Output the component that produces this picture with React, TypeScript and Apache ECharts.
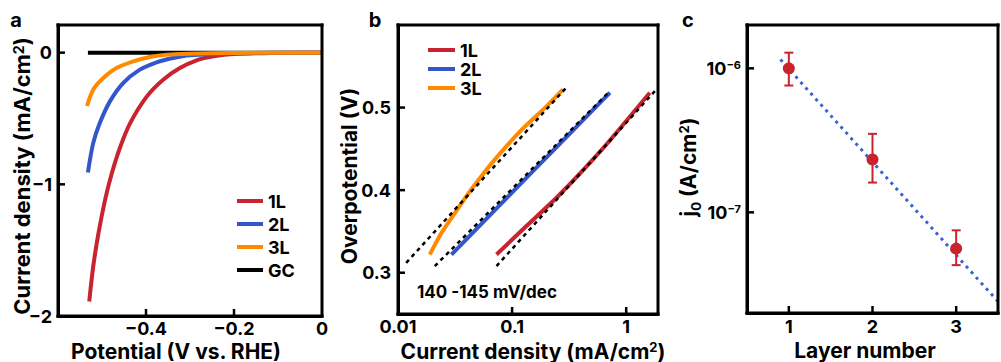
import React, { useEffect, useRef } from 'react';
import * as echarts from 'echarts';

const FONT = 'Inter, "Liberation Sans", Arial, sans-serif';
const RED = '#c8232f';
const BLUE = '#3456cc';
const ORANGE = '#ff8a00';
const BLACK = '#000000';
const FIT_BLUE = '#3a62d6';

// Panel a: polarization curves [potential (V vs. RHE), current density (mA/cm2)]
const lsv1L = [[-0.529, -1.89], [-0.52, -1.625], [-0.508, -1.371], [-0.493, -1.118], [-0.478, -0.92], [-0.459, -0.72], [-0.436, -0.535], [-0.398, -0.332], [-0.361, -0.205], [-0.323, -0.117], [-0.285, -0.058], [-0.247, -0.028], [-0.2, -0.01], [-0.1, -0.002], [0, 0]];
const lsv2L = [[-0.532, -0.91], [-0.52, -0.687], [-0.505, -0.535], [-0.482, -0.37], [-0.452, -0.231], [-0.414, -0.129], [-0.376, -0.073], [-0.338, -0.04], [-0.3, -0.02], [-0.2, -0.005], [-0.1, -0.001], [0, 0]];
const lsv3L = [[-0.534, -0.405], [-0.52, -0.281], [-0.497, -0.193], [-0.467, -0.117], [-0.429, -0.066], [-0.391, -0.033], [-0.353, -0.015], [-0.308, -0.008], [-0.2, -0.002], [0, 0]];
const lsvGC = [[-0.532, 0], [0, 0]];
const ticksXA = [-0.4, -0.2];
const ticksYA = [-1, 0];

// Panel b: Tafel plots [current density (mA/cm2), overpotential (V)]
const tafel1L = [[0.073, 0.322], [0.13, 0.355], [0.25, 0.392], [0.62, 0.45], [1.61, 0.518]];
const tafel2L = [[0.0294, 0.322], [0.138, 0.417], [0.72, 0.518]];
const tafel3L = [[0.019, 0.322], [0.024, 0.348], [0.0314, 0.372], [0.044, 0.401], [0.0705, 0.437], [0.121, 0.473], [0.194, 0.4996], [0.28, 0.522]];
const fit1L = [[0.073, 0.308], [1.84, 0.522]];
const fit2L = [[0.021, 0.308], [0.72, 0.52]];
const fit3L = [[0.0118, 0.312], [0.298, 0.524]];
const slopeText = '140 -145 mV/dec';
const ticksXB = [0.1, 1];
const ticksYB = [0.3, 0.4, 0.5];

// Panel c: exchange current density vs layer number
const layers = [1, 2, 3];
const j0 = [1.0e-6, 2.33e-7, 5.6e-8];
const j0Upper = [1.285e-6, 3.51e-7, 7.5e-8];
const j0Lower = [7.6e-7, 1.61e-7, 4.3e-8];
const j0Fit = [[0.9, 1.15e-6], [3.5, 2.4e-8]];
const ticksXC = [1, 2, 3];
const ticksYC = [1e-7, 1e-6];

const legendA = ['1L', '2L', '3L', 'GC'];
const legendB = ['1L', '2L', '3L'];

const fmtMinus = (v: number, d: number) => (v < 0 ? '\u2212' : '') + Math.abs(v).toFixed(d);

const axisBase = (labelExtra: any = {}) => ({
  axisLine: { show: true, onZero: false, lineStyle: { color: BLACK, width: 3 } },
  axisTick: { show: false },
  axisLabel: { show: true, color: BLACK, fontSize: 18, fontWeight: 'bold', fontFamily: FONT, ...labelExtra },
  splitLine: { show: false },
});

const titleText = (x: number, y: number, text: string, rotate: boolean, size: number, rich: any = undefined) => ({
  type: 'text',
  x,
  y,
  rotation: rotate ? Math.PI / 2 : 0,
  style: {
    text,
    fill: BLACK,
    fontSize: size,
    fontWeight: 'bold',
    fontFamily: FONT,
    align: 'center',
    verticalAlign: 'middle',
    ...(rich ? { rich } : {}),
  },
});

const richSup = (size: number, lift = 0) => ({
  n: { fontSize: size, fontWeight: 'bold', fontFamily: FONT, fill: BLACK, padding: [0, 0, lift, 0] },
  s: { fontSize: Math.round(size * 0.62), fontWeight: 'bold', fontFamily: FONT, verticalAlign: 'top', fill: BLACK },
  sub: { fontSize: Math.round(size * 0.62), fontWeight: 'bold', fontFamily: FONT, verticalAlign: 'bottom', fill: BLACK },
});

// Frame (box + inward ticks) drawn as filled bars through each grid's own scales
const frameSeries = (idx: number, xTicks: number[], yTicks: number[]) => ({
  name: 'frame' + idx,
  type: 'custom',
  xAxisIndex: idx,
  yAxisIndex: idx,
  z: 20,
  data: [[xTicks[0], yTicks[0]]],
  renderItem: (params: any, api: any) => {
    const cs = params.coordSys;
    const bottom = cs.y + cs.height;
    const right = cs.x + cs.width;
    const left = cs.x;
    const top = cs.y;
    const w = 3;
    const fill = { fill: BLACK, lineWidth: 0 };
    const children: any[] = [
      { type: 'rect', shape: { x: left - w / 2, y: top - w / 2, width: right - left + w, height: w }, style: fill },
      { type: 'rect', shape: { x: left - w / 2, y: bottom - w / 2, width: right - left + w, height: w }, style: fill },
      { type: 'rect', shape: { x: left - w / 2, y: top - w / 2, width: w, height: bottom - top + w }, style: fill },
      { type: 'rect', shape: { x: right - w / 2, y: top - w / 2, width: w, height: bottom - top + w }, style: fill },
    ];
    xTicks.forEach((t) => {
      const p = api.coord([t, yTicks[0]]);
      children.push({ type: 'rect', shape: { x: p[0] - 1.25, y: bottom - 7, width: 2.5, height: 7 }, style: fill });
    });
    yTicks.forEach((t) => {
      const p = api.coord([xTicks[0], t]);
      children.push({ type: 'rect', shape: { x: left, y: p[1] - 1.25, width: 7, height: 2.5 }, style: fill });
    });
    return { type: 'group', children };
  },
});

export default function App() {
  const ref = useRef<HTMLDivElement>(null);
  useEffect(() => {
    document.body.style.margin = '0';
    if (!ref.current) return;
    const chart = echarts.init(ref.current, null, { renderer: 'svg' });
    const lineS = (name: string, data: number[][], color: string, xi: number, z = 2) => ({
      name, type: 'line', data, xAxisIndex: xi, yAxisIndex: xi, color,
      showSymbol: false, symbol: 'none', smooth: xi === 0 ? 0.3 : 0.2,
      lineStyle: { color, width: 4 }, z,
    });
    const fitS = (data: number[][]) => ({
      name: 'fit', type: 'line', data, xAxisIndex: 1, yAxisIndex: 1, color: BLACK,
      showSymbol: false, symbol: 'none', lineStyle: { color: BLACK, width: 2.5, type: [4, 4] }, z: 5,
    });
    const option: any = {
      animation: false,
      grid: [
        { left: 58, top: 25, width: 264, height: 291 },
        { left: 398, top: 25, width: 260, height: 289 },
        { left: 747, top: 25, width: 263, height: 288 },
      ],
      xAxis: [
        {
          gridIndex: 0, type: 'value', position: 'bottom', min: -0.6, max: 0, interval: 0.2,
          ...axisBase({ margin: 3, formatter: (v: number) => (v < -0.5 ? '' : (Math.abs(v) < 1e-9 ? '0' : fmtMinus(v, 1))) }),
        },
        {
          gridIndex: 1, type: 'log', logBase: 10, position: 'bottom', min: 0.01, max: 1.9,
          ...axisBase({
            margin: 3,
            formatter: (v: number) => {
              const l = Math.log10(v);
              if (Math.abs(l - Math.round(l)) > 1e-6) return '';
              return v >= 1 ? String(Math.round(v)) : v.toFixed(-Math.round(l));
            },
          }),
        },
        {
          gridIndex: 2, type: 'value', position: 'bottom', min: 0.5, max: 3.5, splitNumber: 3,
          ...axisBase({ margin: 4, formatter: (v: number) => (Math.abs(v - Math.round(v)) < 1e-6 ? String(Math.round(v)) : '') }),
        },
      ],
      yAxis: [
        {
          gridIndex: 0, type: 'value', position: 'left', min: -2, max: 0.21, interval: 1,
          ...axisBase({ margin: 6, formatter: (v: number) => (Math.abs(v - Math.round(v)) < 1e-6 ? (Math.round(v) === 0 ? '0' : fmtMinus(Math.round(v), 0)) : '') }),
        },
        {
          gridIndex: 1, type: 'value', position: 'left', min: 0.25, max: 0.6, splitNumber: 3,
          ...axisBase({
            margin: 7,
            formatter: (v: number) => {
              const t = v * 10;
              if (Math.abs(t - Math.round(t)) > 1e-6 || v > 0.55) return '';
              return v.toFixed(1);
            },
          }),
        },
        {
          gridIndex: 2, type: 'log', logBase: 10, position: 'left', min: 2e-8, max: 2e-6,
          ...axisBase({
            margin: 6,
            formatter: (v: number) => {
              const l = Math.log10(v);
              const e = Math.round(l);
              if (Math.abs(l - e) > 1e-6) return '';
              return `{b|10}{s|\u2212${Math.abs(e)}}`;
            },
            rich: {
              b: { fontSize: 18, fontWeight: 'bold', fontFamily: FONT, color: BLACK },
              s: { fontSize: 11, fontWeight: 'bold', fontFamily: FONT, color: BLACK, verticalAlign: 'top' },
            },
          }),
        },
      ],
      legend: [
        {
          data: legendA, orient: 'vertical', left: 232, top: 187, icon: 'rect', itemWidth: 26, itemHeight: 4, itemGap: 5,
          textStyle: { color: BLACK, fontSize: 18, fontWeight: 'bold', fontFamily: FONT },
          selectedMode: false,
        },
        {
          data: legendB, orient: 'vertical', left: 423, top: 36, icon: 'rect', itemWidth: 27, itemHeight: 4, itemGap: 1,
          textStyle: { color: BLACK, fontSize: 18, fontWeight: 'bold', fontFamily: FONT },
          selectedMode: false,
        },
      ],
      series: [
        lineS('GC', lsvGC, BLACK, 0, 1),
        lineS('1L', lsv1L, RED, 0, 2),
        lineS('2L', lsv2L, BLUE, 0, 3),
        lineS('3L', lsv3L, ORANGE, 0, 4),
        lineS('1L', tafel1L, RED, 1, 2),
        lineS('2L', tafel2L, BLUE, 1, 3),
        lineS('3L', tafel3L, ORANGE, 1, 4),
        fitS(fit1L),
        fitS(fit2L),
        fitS(fit3L),
        {
          name: 'j0 fit', type: 'line', data: j0Fit, xAxisIndex: 2, yAxisIndex: 2, color: FIT_BLUE,
          showSymbol: false, symbol: 'none', lineStyle: { color: FIT_BLUE, width: 3, type: [3, 4.5] }, z: 2,
        },
        {
          name: 'j0 error', type: 'custom', xAxisIndex: 2, yAxisIndex: 2, z: 3,
          data: layers.map((l, i) => [l, j0Lower[i], j0Upper[i]]),
          encode: { x: 0, y: [1, 2] },
          renderItem: (_p: any, api: any) => {
            const x = api.value(0);
            const lo = api.coord([x, api.value(1)]);
            const hi = api.coord([x, api.value(2)]);
            const hw = 4.5;
            const style = { stroke: RED, lineWidth: 2, fill: 'none' };
            return {
              type: 'group',
              children: [
                { type: 'line', shape: { x1: lo[0], y1: lo[1], x2: hi[0], y2: hi[1] }, style },
                { type: 'line', shape: { x1: lo[0] - hw, y1: lo[1], x2: lo[0] + hw, y2: lo[1] }, style },
                { type: 'line', shape: { x1: hi[0] - hw, y1: hi[1], x2: hi[0] + hw, y2: hi[1] }, style },
              ],
            };
          },
        },
        {
          name: 'j0', type: 'scatter', xAxisIndex: 2, yAxisIndex: 2, z: 4,
          data: layers.map((l, i) => [l, j0[i]]),
          symbol: 'circle', symbolSize: 12, itemStyle: { color: RED, opacity: 1 },
        },
        frameSeries(0, ticksXA, ticksYA),
        frameSeries(1, ticksXB, ticksYB),
        frameSeries(2, ticksXC, ticksYC),
      ],
      graphic: [
        titleText(16, 20, 'a', false, 20),
        titleText(375, 20, 'b', false, 20),
        titleText(688, 20, 'c', false, 20),
        titleText(176, 351, 'Potential (V vs. RHE)', false, 21),
        titleText(22, 176, '{n|Current density (mA/cm}{s|2}{n|)}', true, 22, richSup(22)),
        titleText(533, 351, '{n|Current density (mA/cm}{s|2}{n|)}', false, 21, richSup(21)),
        titleText(349, 176, 'Overpotential (V)', true, 21),
        titleText(865, 350, 'Layer number', false, 21),
        titleText(690, 167, '{n|j}{sub|0}{n| (A/cm}{s|2}{n|)}', true, 21, richSup(21, 4)),
        {
          type: 'text', x: 417, y: 292,
          style: { text: slopeText, fill: BLACK, fontSize: 17, fontWeight: 'bold', fontFamily: FONT, align: 'left', verticalAlign: 'middle' },
        },
      ],
    };
    chart.setOption(option);
    return () => chart.dispose();
  }, []);
  return <div ref={ref} style={{ width: 1001, height: 362 }} />;
}
